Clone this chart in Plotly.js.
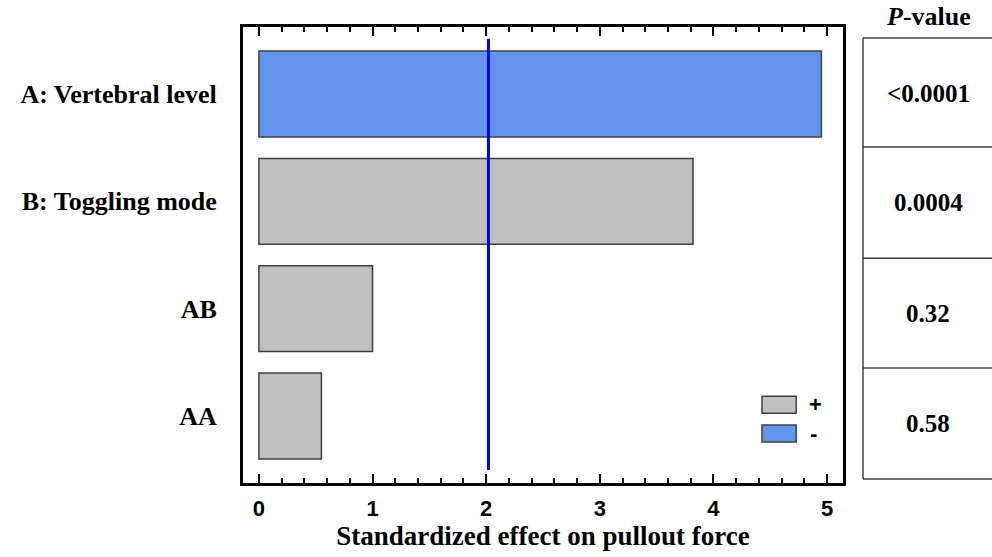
<!DOCTYPE html>
<html>
<head>
<meta charset="utf-8">
<script src="https://cdn.plot.ly/plotly-3.0.1.min.js"></script>
<style>html,body{margin:0;padding:0;background:#fff;}#chart{width:992px;height:557px;}</style>
</head>
<body>
<div id="chart"></div>
<script>
// ---- data ----
const terms = ["A: Vertebral level", "B: Toggling mode", "AB", "AA"];
const effects = [4.95, 3.82, 1.00, 0.55];
const signs = ["-", "+", "+", "+"];
const pValues = ["<0.0001", "0.0004", "0.32", "0.58"];
const tCritical = 2.02;
const xTicks = [0, 1, 2, 3, 4, 5];

const colorPos = "#C0C0C0";
const colorNeg = "#6495ED";
const serif = "Liberation Serif, Times New Roman, serif";
const sans = "Liberation Sans, Arial, sans-serif";

const barTrace = {
  type: "bar",
  orientation: "h",
  x: effects,
  y: terms,
  width: 0.8,
  marker: {
    color: signs.map(s => s === "+" ? colorPos : colorNeg),
    line: {color: "#404040", width: 1.5}
  },
  hoverinfo: "x+y",
  showlegend: false
};

// table geometry (paper coords relative to plot area)
const tblLeft = 1.0333, tblRight = 1.4;
const rowLines = [0.976, 0.737, 0.493, 0.252, 0.0088];
const shapes = [];
shapes.push({type: "line", xref: "paper", yref: "paper", x0: tblLeft, x1: tblLeft, y0: rowLines[rowLines.length-1], y1: rowLines[0], line: {color: "#404040", width: 1.5}});
rowLines.forEach(y => shapes.push({type: "line", xref: "paper", yref: "paper", x0: tblLeft, x1: tblRight, y0: y, y1: y, line: {color: "#404040", width: 1.5}}));
// critical t line
shapes.push({type: "line", xref: "x", yref: "paper", x0: tCritical, x1: tCritical, y0: 0.0285, y1: 0.974, line: {color: "#0000FF", width: 3}});
// legend boxes
shapes.push({type: "rect", xref: "paper", yref: "paper", x0: 0.865, x1: 0.922, y0: 0.153, y1: 0.190, fillcolor: colorPos, line: {color: "#404040", width: 1.5}});
shapes.push({type: "rect", xref: "paper", yref: "paper", x0: 0.865, x1: 0.922, y0: 0.090, y1: 0.127, fillcolor: colorNeg, line: {color: "#404040", width: 1.5}});

const annotations = [];
const rowCenters = [0.855, 0.615, 0.3725, 0.130];
pValues.forEach((p, i) => annotations.push({
  xref: "paper", yref: "paper", x: 1.1417, y: rowCenters[i], text: "<b>" + p + "</b>", showarrow: false,
  xanchor: "center", yanchor: "middle", font: {family: serif, size: 25, color: "#000"}
}));
annotations.push({xref: "paper", yref: "paper", x: 1.1417, y: 1.022, text: "<b><i>P</i>-value</b>", showarrow: false,
  xanchor: "center", yanchor: "middle", font: {family: serif, size: 26, color: "#000"}});
annotations.push({xref: "paper", yref: "paper", x: 0.94, y: 0.172, text: "<b>+</b>", showarrow: false,
  xanchor: "left", yanchor: "middle", font: {family: sans, size: 22, color: "#000"}});
annotations.push({xref: "paper", yref: "paper", x: 0.942, y: 0.108, text: "<b>-</b>", showarrow: false,
  xanchor: "left", yanchor: "middle", font: {family: sans, size: 22, color: "#000"}});

const layout = {
  width: 992, height: 557,
  margin: {l: 243, r: 149, t: 27, b: 74, pad: 0},
  paper_bgcolor: "#fff", plot_bgcolor: "#fff",
  bargap: 0.2,
  xaxis: {
    range: [-0.14, 5.14],
    tickvals: xTicks,
    ticktext: xTicks.map(v => "<b>" + v + "</b>"),
    ticks: "inside", ticklen: 9, tickwidth: 2, tickcolor: "#000",
    minor: {dtick: 0.2, tick0: 0, ticks: "inside", ticklen: 5, tickwidth: 2, tickcolor: "#000", showgrid: false},
    showline: true, linewidth: 3, linecolor: "#000", mirror: "allticks",
    showgrid: false, zeroline: false,
    tickfont: {family: sans, size: 22, color: "#000"},
    ticklabelstandoff: 4,
    title: {text: "<b>Standardized effect on pullout force</b>", font: {family: serif, size: 27, color: "#000"}, standoff: 6},
    fixedrange: true
  },
  yaxis: {
    type: "category",
    categoryorder: "array", categoryarray: terms,
    range: [3.624, -0.624],
    ticks: "", showline: true, linewidth: 3, linecolor: "#000", mirror: true,
    showgrid: false, zeroline: false,
    tickvals: terms,
    ticktext: terms.map(t => "<b>" + t + "</b>"),
    tickfont: {family: serif, size: 26, color: "#000"},
    ticklabelstandoff: 18,
    fixedrange: true
  },
  shapes: shapes,
  annotations: annotations,
  showlegend: false
};

Plotly.newPlot("chart", [barTrace], layout, {displayModeBar: false, staticPlot: true});
</script>
</body>
</html>
